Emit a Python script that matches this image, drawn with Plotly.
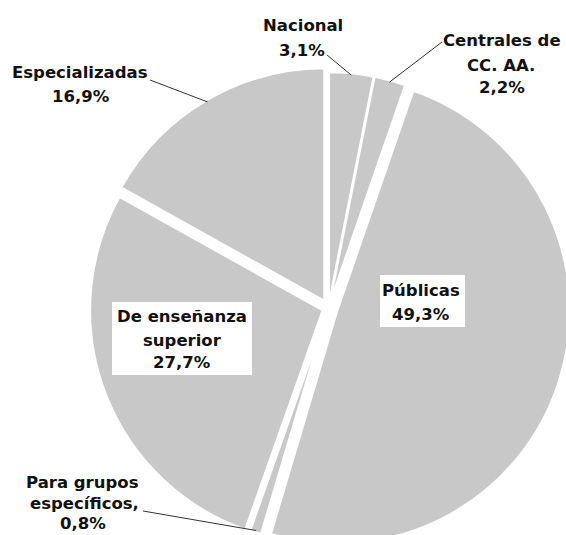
import math
import plotly.graph_objects as go

# ---- data ----
labels = ["Nacional", "Centrales de CC. AA.", "Públicas", "Para grupos específicos",
          "De enseñanza superior", "Especializadas"]
values = [3.1, 2.2, 49.3, 0.8, 27.7, 16.9]
name_lines = [["Nacional"], ["Centrales de", "CC. AA."], ["Públicas"],
              ["Para grupos", "específicos,"], ["De enseñanza", "superior"], ["Especializadas"]]
pulls = [0.0129, 0.0129, 0.0386, 0.0129, 0.0258, 0.0343]

def pct(v):
    return f"{v:.1f}".replace(".", ",") + "%"

# ---- layout geometry ----
# The figure is larger than the 566x535 window; the page clips it so the
# pie runs off the right and bottom edges as in the reference.
W, H = 600, 616
dom_x = [0.1442, 0.9508]
dom_y = [0.0, 1.0]
FONT = "DejaVu Sans"
FSIZE = 16.5
GRAY = "#c8c8c8"
BORDER = 2.5

def px(x, y):
    return x / W, 1 - y / H

fig = go.Figure(go.Pie(
    labels=labels, values=values, sort=False, direction="clockwise", rotation=0,
    pull=pulls, textinfo="none", hoverinfo="skip",
    marker=dict(colors=[GRAY] * len(values), line=dict(color="white", width=BORDER)),
    domain=dict(x=dom_x, y=dom_y), showlegend=False,
))

# pie geometry (same rule as plotly's pie layout), used for leader-line tips
boxW = W * (dom_x[1] - dom_x[0])
boxH = H * (dom_y[1] - dom_y[0])
R = min(boxW, boxH) / (2 * (1 + max(pulls)))
cx = W * (dom_x[0] + dom_x[1]) / 2
cy = H - H * dom_y[0] - boxH / 2
tot = sum(values)
cum = 0
mids = []
for v in values:
    mids.append(2 * math.pi * (cum + v / 2) / tot)
    cum += v

def tip(i, r):
    a = mids[i]
    d = pulls[i] * R
    return (cx + (d + r) * math.sin(a), cy - (d + r) * math.cos(a))

annotations = []
shapes = []

def line_texts(lines, xs, ys):
    for t, x, y in zip(lines, xs, ys):
        xp, yp = px(x, y)
        annotations.append(dict(x=xp, y=yp, xref="paper", yref="paper", text="<b>" + t + "</b>",
                                showarrow=False, xanchor="center", yanchor="middle",
                                font=dict(family=FONT, size=FSIZE, color="#111111")))

# outside labels: (slice index, line centres x, line centres y, leader start)
outside = [
    (0, [303, 302], [25, 50], (327, 55)),
    (1, [502, 501, 502], [40, 65, 88], (442, 42)),
    (5, [80, 81], [73, 96], (150, 80)),
    (3, [82, 84, 83], [482, 503, 523], (143, 511)),
]
for i, xs, ys, start in outside:
    line_texts(name_lines[i] + [pct(values[i])], xs, ys)
    tx, ty = tip(i, R - 2)
    x0, y0 = px(*start)
    x1, y1 = px(tx, ty)
    shapes.append(dict(type="line", xref="paper", yref="paper", x0=x0, y0=y0, x1=x1, y1=y1,
                       line=dict(color="#333333", width=1), layer="above"))

# inside labels on white boxes: (slice index, box, line centres x, line centres y)
inside = [
    (2, (380, 275, 465, 327), [421, 421], [290, 314]),
    (4, (112, 302, 252, 375), [182, 182, 182], [316, 340, 362]),
]
for i, box, xs, ys in inside:
    bx0, by0 = px(box[0], box[1])
    bx1, by1 = px(box[2], box[3])
    shapes.append(dict(type="rect", xref="paper", yref="paper", x0=bx0, y0=by0, x1=bx1, y1=by1,
                       fillcolor="white", line=dict(width=0), layer="above"))
    line_texts(name_lines[i] + [pct(values[i])], xs, ys)

fig.update_layout(
    width=W, height=H, margin=dict(l=0, r=0, t=0, b=0),
    paper_bgcolor="white", plot_bgcolor="white",
    annotations=annotations, shapes=shapes,
)

fig.write_html("out.html", config={"displayModeBar": False},
               post_script="document.body.style.margin='0';document.body.style.overflow='hidden';"
                           "document.documentElement.style.overflow='hidden';")
